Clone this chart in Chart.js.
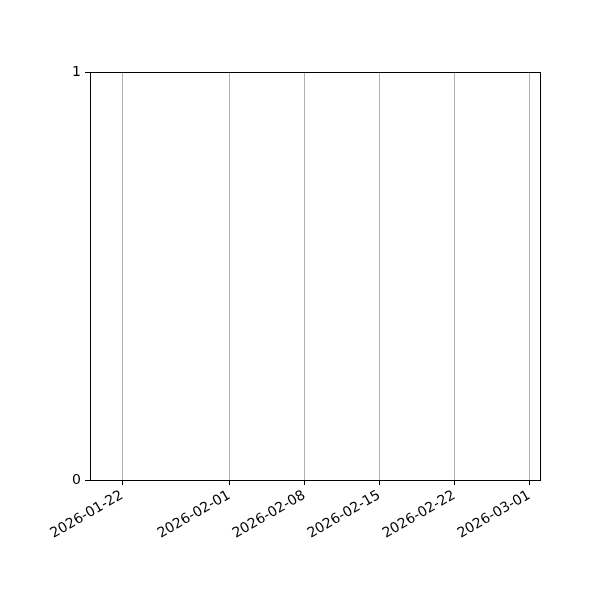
<!DOCTYPE html>
<html>
<head>
<meta charset="utf-8">
<script src="https://cdn.jsdelivr.net/npm/chart.js@4"></script>
<style>
  html, body { margin: 0; padding: 0; background: #fff; }
  #wrap { width: 600px; height: 600px; }
</style>
</head>
<body>
<div id="wrap"><canvas id="chart" width="600" height="600"></canvas></div>
<script>
// Axis range and tick dates
const xRange = ['2026-01-19', '2026-03-02'];
const xTickDates = ['2026-01-22', '2026-02-01', '2026-02-08', '2026-02-15', '2026-02-22', '2026-03-01'];
const yTicks = [0, 1];
// The chart has no data points
const seriesValues = [];

// Turn a 'YYYY-MM-DD' string into a day number
function toDay(s) {
    const p = s.split('-').map(Number);
    return Date.UTC(p[0], p[1] - 1, p[2]) / 86400000;
}
function fromDay(d) {
    return new Date(d * 86400000).toISOString().slice(0, 10);
}

const tickFont = { family: 'DejaVu Sans', size: 14 };

// Draws the black frame round the plot area
const framePlugin = {
    id: 'frame',
    afterDraw(chart) {
        const a = chart.chartArea;
        const ctx = chart.ctx;
        ctx.save();
        ctx.strokeStyle = '#000';
        ctx.lineWidth = 1;
        ctx.strokeRect(Math.round(a.left) + 0.5, Math.round(a.top) + 0.5,
            Math.round(a.right - a.left), Math.round(a.bottom - a.top));
        ctx.restore();
    }
};

Chart.defaults.animation = false;

new Chart(document.getElementById('chart').getContext('2d'), {
    type: 'line',
    data: {
        datasets: [{
            data: seriesValues,
            borderColor: '#1f77b4'
        }]
    },
    options: {
        responsive: false,
        maintainAspectRatio: false,
        layout: { padding: { top: 72, right: 60, left: 0, bottom: 0 } },
        plugins: {
            legend: { display: false },
            tooltip: { enabled: false }
        },
        scales: {
            x: {
                type: 'linear',
                min: toDay(xRange[0]),
                max: toDay(xRange[1]),
                afterBuildTicks: function(scale) {
                    scale.ticks = xTickDates.map(d => ({ value: toDay(d) }));
                },
                afterFit: function(scale) { scale.height = 120; },
                ticks: {
                    color: '#000',
                    font: tickFont,
                    minRotation: 30,
                    maxRotation: 30,
                    padding: 2,
                    autoSkip: false,
                    callback: function(value) { return fromDay(value); }
                },
                grid: {
                    color: '#b0b0b0',
                    tickColor: '#000',
                    tickLength: 5,
                    lineWidth: 1
                },
                border: { color: '#000' }
            },
            y: {
                min: yTicks[0],
                max: yTicks[yTicks.length - 1],
                afterBuildTicks: function(scale) {
                    scale.ticks = yTicks.map(v => ({ value: v }));
                },
                afterFit: function(scale) { scale.width = 90; },
                ticks: {
                    color: '#000',
                    font: tickFont,
                    padding: 4
                },
                grid: {
                    drawOnChartArea: false,
                    tickColor: '#000',
                    tickLength: 5
                },
                border: { color: '#000' }
            }
        }
    },
    plugins: [framePlugin]
});
</script>
</body>
</html>
